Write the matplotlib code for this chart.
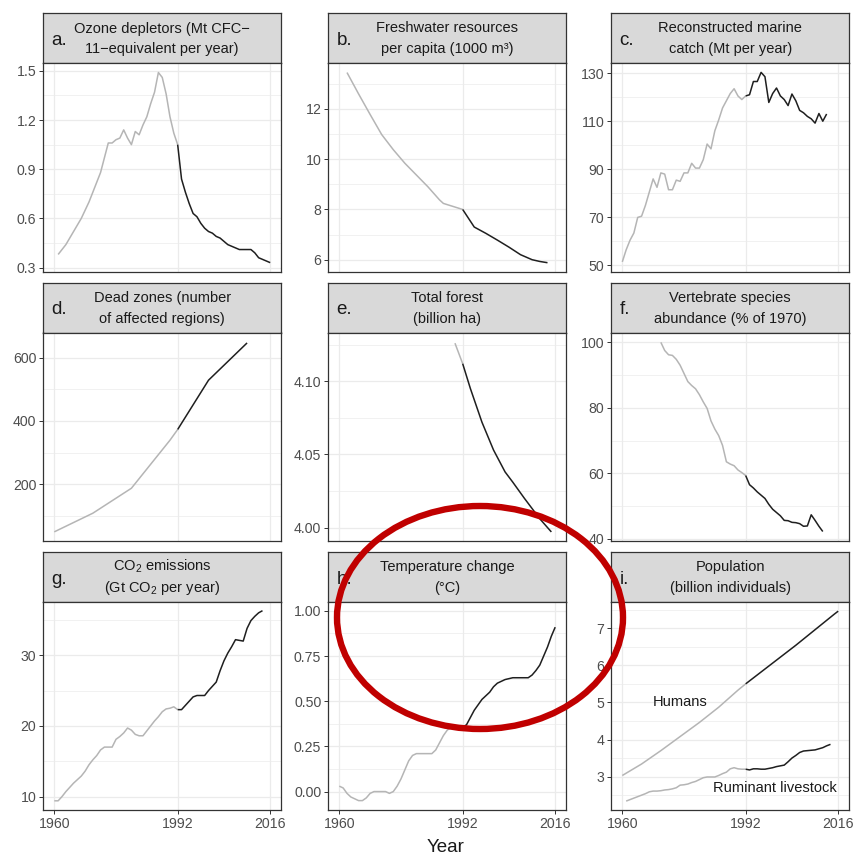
import matplotlib
matplotlib.use("Agg")
import matplotlib.pyplot as plt
from matplotlib.patches import Ellipse
from matplotlib.ticker import AutoMinorLocator, FixedLocator, FixedFormatter

plt.rcParams['font.family'] = ['Liberation Sans', 'DejaVu Sans']
plt.rcParams['mathtext.fontset'] = 'custom'
plt.rcParams['mathtext.rm'] = 'Liberation Sans'
plt.rcParams['mathtext.it'] = 'Liberation Sans:italic'
plt.rcParams['mathtext.bf'] = 'Liberation Sans:bold'

# ---------------- data ----------------
x_ticks = [1960, 1992, 2016]
split_year = 1992

ozone_years = list(range(1961, 2017))
ozone = [0.38, 0.41, 0.44, 0.48, 0.52, 0.56, 0.60, 0.65, 0.70, 0.76,
         0.82, 0.88, 0.97, 1.06, 1.06, 1.08, 1.09, 1.14, 1.09, 1.05,
         1.13, 1.11, 1.17, 1.22, 1.30, 1.37, 1.49, 1.46, 1.36, 1.22,
         1.12, 1.05, 0.84, 0.76, 0.69, 0.63, 0.61, 0.57, 0.54, 0.52,
         0.51, 0.49, 0.48, 0.46, 0.44, 0.43, 0.42, 0.41, 0.41, 0.41,
         0.41, 0.39, 0.36, 0.35, 0.34, 0.33]

water_years = [1962, 1965, 1968, 1971, 1974, 1977, 1980, 1983, 1986, 1987,
               1992, 1995, 1998, 2001, 2004, 2007, 2010, 2012, 2014]
water = [13.45, 12.6, 11.78, 10.98, 10.38, 9.84, 9.37, 8.9, 8.38, 8.24,
         8.0, 7.3, 7.05, 6.78, 6.5, 6.2, 6.0, 5.93, 5.88]

catch_years = list(range(1960, 2014))
catch = [51.5, 56.5, 60.5, 63.5, 70.0, 70.5, 75.0, 80.5, 86.0, 82.5,
         88.5, 88.0, 81.5, 81.5, 85.5, 85.0, 88.5, 88.5, 92.5, 90.5,
         90.5, 94.0, 100.5, 98.5, 106.0, 110.5, 115.5, 118.5, 121.5, 123.5,
         120.5, 119.0, 120.5, 121.0, 126.5, 126.5, 130.3, 128.5, 117.8, 121.5,
         123.8, 120.5, 119.0, 116.5, 121.3, 118.5, 114.5, 113.5, 112.0, 111.0,
         109.2, 113.2, 110.0, 113.0]

dead_years = [1960, 1970, 1980, 1990, 1992, 2000, 2010]
dead = [49, 108, 187, 339, 373, 529, 647]

forest_years = [1990, 1992, 1994, 1997, 2000, 2003, 2005, 2008, 2012, 2015]
forest = [4.126, 4.112, 4.095, 4.072, 4.053, 4.038, 4.031, 4.020, 4.006, 3.997]

vert_years = list(range(1970, 2013))
vert = [100.0, 97.5, 96.2, 96.0, 94.8, 93.0, 90.5, 88.0, 86.8, 85.8,
        84.0, 81.8, 79.8, 76.0, 73.5, 71.5, 68.5, 63.5, 62.8, 62.3,
        61.0, 60.2, 59.3, 56.5, 55.5, 54.3, 53.3, 52.3, 50.5, 49.0,
        48.0, 47.0, 45.6, 45.5, 45.0, 44.9, 44.6, 43.8, 43.9, 47.3,
        45.6, 43.8, 42.2]

co2_years = list(range(1960, 2015))
co2 = [9.4, 9.4, 10.0, 10.7, 11.3, 11.9, 12.4, 12.9, 13.6, 14.5,
       15.2, 15.8, 16.6, 17.0, 17.0, 17.0, 18.1, 18.5, 19.0, 19.7,
       19.4, 18.8, 18.6, 18.6, 19.3, 20.0, 20.7, 21.3, 22.0, 22.4,
       22.5, 22.7, 22.3, 22.3, 22.9, 23.5, 24.1, 24.3, 24.3, 24.3,
       25.0, 25.6, 26.2, 27.8, 29.2, 30.3, 31.2, 32.2, 32.1, 32.0,
       33.8, 34.9, 35.5, 36.0, 36.3]

temp_years = list(range(1960, 2017))
temp = [0.03, 0.02, -0.01, -0.03, -0.04, -0.05, -0.05, -0.035, -0.01, 0.0,
        0.0, 0.0, 0.0, -0.01, 0.0, 0.03, 0.07, 0.12, 0.17, 0.20,
        0.21, 0.21, 0.21, 0.21, 0.21, 0.23, 0.27, 0.31, 0.34, 0.355,
        0.355, 0.355, 0.355, 0.37, 0.41, 0.45, 0.48, 0.51, 0.53, 0.55,
        0.58, 0.60, 0.61, 0.62, 0.625, 0.63, 0.63, 0.63, 0.63, 0.63,
        0.645, 0.67, 0.70, 0.75, 0.80, 0.86, 0.91]

human_years = [1960, 1965, 1970, 1975, 1980, 1985, 1990, 1992, 1995, 2000,
               2005, 2010, 2015, 2016]
humans = [3.03, 3.34, 3.70, 4.08, 4.46, 4.87, 5.33, 5.50, 5.74, 6.14,
          6.54, 6.96, 7.38, 7.46]

livestock_years = list(range(1961, 2015))
livestock = [2.34, 2.38, 2.42, 2.46, 2.50, 2.54, 2.59, 2.61, 2.61, 2.62,
             2.64, 2.65, 2.67, 2.70, 2.77, 2.78, 2.80, 2.84, 2.87, 2.92,
             2.97, 2.99, 2.99, 2.99, 3.03, 3.08, 3.12, 3.21, 3.24, 3.21,
             3.20, 3.20, 3.18, 3.21, 3.21, 3.20, 3.20, 3.22, 3.24, 3.27,
             3.29, 3.31, 3.40, 3.50, 3.57, 3.65, 3.69, 3.70, 3.71, 3.72,
             3.75, 3.78, 3.83, 3.87]

panel_letters = ['a.', 'b.', 'c.', 'd.', 'e.', 'f.', 'g.', 'h.', 'i.']
panel_titles = [
    ['Ozone depletors (Mt CFC\u2212', '11\u2212equivalent per year)'],
    ['Freshwater resources', 'per capita (1000 m\u00b3)'],
    ['Reconstructed marine', 'catch (Mt per year)'],
    ['Dead zones (number', 'of affected regions)'],
    ['Total forest', '(billion ha)'],
    ['Vertebrate species', 'abundance (% of 1970)'],
    ['CO$_2$ emissions', '(Gt CO$_2$ per year)'],
    ['Temperature change', '(\u00b0C)'],
    ['Population', '(billion individuals)'],
]
panel_series = [
    [(ozone_years, ozone)],
    [(water_years, water)],
    [(catch_years, catch)],
    [(dead_years, dead)],
    [(forest_years, forest)],
    [(vert_years, vert)],
    [(co2_years, co2)],
    [(temp_years, temp)],
    [(human_years, humans), (livestock_years, livestock)],
]
panel_yticks = [
    [0.3, 0.6, 0.9, 1.2, 1.5],
    [6, 8, 10, 12],
    [50, 70, 90, 110, 130],
    [200, 400, 600],
    [4.00, 4.05, 4.10],
    [40, 60, 80, 100],
    [10, 20, 30],
    [0.00, 0.25, 0.50, 0.75, 1.00],
    [3, 4, 5, 6, 7],
]
panel_ytick_labels = [
    ['0.3', '0.6', '0.9', '1.2', '1.5'],
    ['6', '8', '10', '12'],
    ['50', '70', '90', '110', '130'],
    ['200', '400', '600'],
    ['4.00', '4.05', '4.10'],
    ['40', '60', '80', '100'],
    ['10', '20', '30'],
    ['0.00', '0.25', '0.50', '0.75', '1.00'],
    ['3', '4', '5', '6', '7'],
]
panel_ylims = [
    (0.276, 1.548), (5.53, 13.83), (47.5, 134.2),
    (20, 680), (3.9908, 4.1333), (39.3, 103.0),
    (8.1, 37.6), (-0.102, 1.052), (2.1, 7.72),
]

# ---------------- layout ----------------
W, H = 854, 857
fig = plt.figure(figsize=(W / 100, H / 100), dpi=100)


def fx(px):
    return px / W


def fy(py):
    return 1 - py / H


col_left = [43.5, 328.5, 611.5]
pw = 237.5
row_top = [13, 282.5, 551.5]
sh = 50
ph = 208.5

GRAY = '#b5b5b5'
DARK = '#1f1f1f'
BORDER = '#333333'

for i in range(9):
    r, c = divmod(i, 3)
    left = col_left[c]
    top = row_top[r]
    # strip
    sax = fig.add_axes([fx(left), fy(top + sh), pw / W, sh / H])
    sax.set_facecolor('#d9d9d9')
    sax.set_xticks([])
    sax.set_yticks([])
    for sp in sax.spines.values():
        sp.set_color(BORDER)
        sp.set_linewidth(0.9)
    fig.text(fx(left + pw / 2), fy(top + 19.5), panel_titles[i][0],
             ha='center', va='baseline', fontsize=10.5, color='#1a1a1a')
    fig.text(fx(left + pw / 2), fy(top + 40.5), panel_titles[i][1],
             ha='center', va='baseline', fontsize=10.5, color='#1a1a1a')
    fig.text(fx(left + 8), fy(top + 32), panel_letters[i],
             ha='left', va='baseline', fontsize=13.5, color='#1a1a1a')

    # panel
    ax = fig.add_axes([fx(left), fy(top + sh + ph), pw / W, ph / H])
    ax.set_xlim(1957.2, 2018.8)
    ax.set_ylim(*panel_ylims[i])
    ax.xaxis.set_major_locator(FixedLocator(x_ticks))
    ax.yaxis.set_major_locator(FixedLocator(panel_yticks[i]))
    ax.yaxis.set_major_formatter(FixedFormatter(panel_ytick_labels[i]))
    ax.yaxis.set_minor_locator(AutoMinorLocator(2))
    ax.grid(which='major', color='#ebebeb', lw=0.9)
    ax.grid(which='minor', axis='y', color='#ebebeb', lw=0.5)
    ax.set_axisbelow(True)
    for sp in ax.spines.values():
        sp.set_color(BORDER)
        sp.set_linewidth(0.9)
    ax.tick_params(axis='y', which='major', length=3.2, width=0.7, color=BORDER,
                   labelsize=10.2, labelcolor='#4d4d4d', pad=2)
    ax.tick_params(axis='y', which='minor', length=0)
    if r == 2:
        ax.xaxis.set_major_formatter(FixedFormatter([str(t) for t in x_ticks]))
        ax.tick_params(axis='x', length=3.2, width=0.7, color=BORDER,
                       labelsize=10.2, labelcolor='#4d4d4d', pad=2)
    else:
        ax.tick_params(axis='x', length=0, labelbottom=False)

    for yrs, vals in panel_series[i]:
        pre = [(y, v) for y, v in zip(yrs, vals) if y <= split_year]
        post = [(y, v) for y, v in zip(yrs, vals) if y >= split_year]
        if pre:
            ax.plot([p[0] for p in pre], [p[1] for p in pre], color=GRAY, lw=1.1,
                    solid_capstyle='butt')
        if post:
            ax.plot([p[0] for p in post], [p[1] for p in post], color=DARK, lw=1.1,
                    solid_capstyle='butt')

    if i == 8:
        ax.text(1974.9, 5.0, 'Humans', ha='center', va='center',
                fontsize=10.5, color='#1a1a1a')
        ax.text(1999.5, 2.68, 'Ruminant livestock', ha='center', va='center',
                fontsize=10.5, color='#1a1a1a')

fig.text(fx(446), fy(848), 'Year', ha='center', va='center', fontsize=13.5,
         color='#1a1a1a')

ell = Ellipse((fx(480), fy(617.5)), width=286 / W, height=223 / H,
              transform=fig.transFigure, fill=False, edgecolor='#c00000',
              lw=4.6, zorder=100)
fig.add_artist(ell)

fig.savefig('out.png', dpi=100)
